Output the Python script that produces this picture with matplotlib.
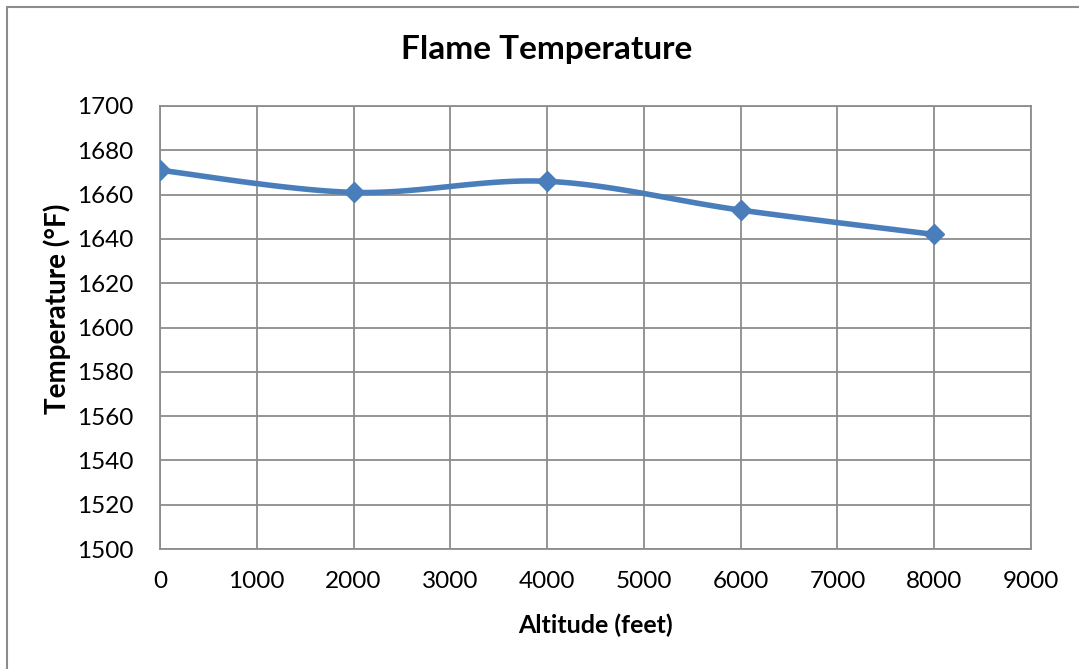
import numpy as np
import matplotlib
matplotlib.use("Agg")
import matplotlib.pyplot as plt
from matplotlib.patches import Rectangle

# data
altitude = [0, 2000, 4000, 6000, 8000]
temperature = [1671, 1661, 1666, 1653, 1642]

x_ticks = list(range(0, 9001, 1000))
y_ticks = list(range(1500, 1701, 20))


def smooth(xs, ys, n=30):
    # Excel-like smoothing: cubic bezier with catmull-rom control points
    xs = np.asarray(xs, float)
    ys = np.asarray(ys, float)
    px, py = [], []
    for i in range(len(xs) - 1):
        x0, y0 = (xs[i - 1], ys[i - 1]) if i > 0 else (xs[i], ys[i])
        x3, y3 = (xs[i + 2], ys[i + 2]) if i + 2 < len(xs) else (xs[i + 1], ys[i + 1])
        x1, y1 = xs[i], ys[i]
        x2, y2 = xs[i + 1], ys[i + 1]
        c1 = (x1 + (x2 - x0) / 6, y1 + (y2 - y0) / 6)
        c2 = (x2 - (x3 - x1) / 6, y2 - (y3 - y1) / 6)
        t = np.linspace(0, 1, n)
        px.extend((1 - t) ** 3 * x1 + 3 * (1 - t) ** 2 * t * c1[0]
                  + 3 * (1 - t) * t ** 2 * c2[0] + t ** 3 * x2)
        py.extend((1 - t) ** 3 * y1 + 3 * (1 - t) ** 2 * t * c1[1]
                  + 3 * (1 - t) * t ** 2 * c2[1] + t ** 3 * y2)
    return px, py


plt.rcParams['font.family'] = ['Lato', 'DejaVu Sans']

W, H = 1079, 669
fig = plt.figure(figsize=(W / 100, H / 100), dpi=100)
ax = fig.add_axes([160 / W, 1 - 549 / H, 871 / W, 443 / H])

sx, sy = smooth(altitude, temperature)
ax.plot(sx, sy, color='#4a7ebb', linewidth=4, solid_capstyle='round', zorder=3)
ax.plot(altitude, temperature, linestyle='none', marker='D', markersize=10,
        color='#4a7ebb', zorder=4)

ax.set_xlim(0, 9000)
ax.set_ylim(1500, 1700)
ax.set_xticks(x_ticks)
ax.set_yticks(y_ticks)
ax.grid(True, color='#8c8c8c', linewidth=1.3)
ax.set_axisbelow(True)
for s in ax.spines.values():
    s.set_color('#8c8c8c')
    s.set_linewidth(1.3)
ax.tick_params(length=0, labelsize=17.5, colors='black')
ax.tick_params(axis='y', pad=19)
ax.tick_params(axis='x', pad=16)

fig.text(547 / W, 1 - 50 / H, 'Flame Temperature', fontsize=24,
         fontweight='bold', ha='center', va='center')
fig.text(595 / W, 1 - 625 / H, 'Altitude (feet)', fontsize=18,
         fontweight='bold', ha='center', va='center')
fig.text(57 / W, 1 - 309 / H, 'Temperature (°F)', fontsize=20,
         fontweight='bold', ha='center', va='center', rotation=90)

fig.patches.append(Rectangle((7 / W, -0.1), 1.2, 1.1 - 7 / H,
                             transform=fig.transFigure, fill=False,
                             edgecolor='#8c8c8c', linewidth=1.5))

fig.savefig('out.png', dpi=100)
